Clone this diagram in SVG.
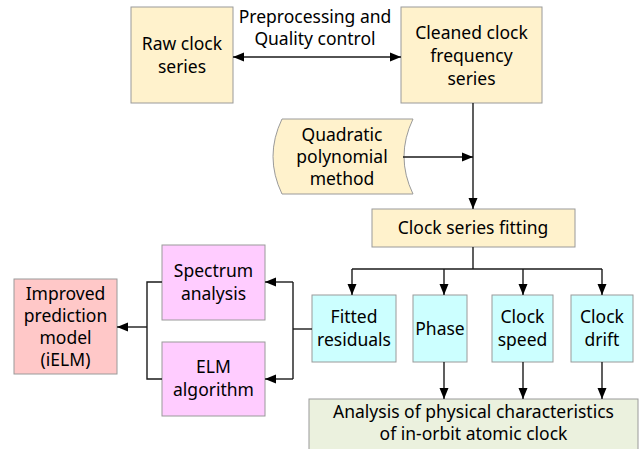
<svg xmlns="http://www.w3.org/2000/svg" width="644" height="449" viewBox="0 0 644 449">
  <defs>
    <marker id="arr" markerUnits="userSpaceOnUse" markerWidth="12" markerHeight="10" refX="11" refY="5" orient="auto-start-reverse">
      <path d="M0,0.5 L11,5 L0,9.5 Z" fill="#000"/>
    </marker>
    <style>
      .box { stroke: #9a9a9a; stroke-width: 1; }
      .beige { fill: #FFF2CC; }
      .cyan { fill: #CCFFFF; }
      .pink { fill: #FFCCFF; }
      .red { fill: #FFC8C8; }
      .green { fill: #EBF1DE; }
      text { font-family: "Noto Sans", "Open Sans", "DejaVu Sans", sans-serif; font-size: 17.5px; fill: #000; text-anchor: middle; }
      .ln { fill: none; stroke: #1a1a1a; stroke-width: 1.4; }
    </style>
  </defs>
  <rect width="644" height="449" fill="#fff"/>

  <g id="raw">
    <rect class="box beige" x="131" y="7" width="102" height="96"/>
    <text x="182" y="50">Raw clock</text>
    <text x="182" y="73">series</text>
  </g>

  <g id="cleaned">
    <rect class="box beige" x="401" y="7" width="141" height="96"/>
    <text x="471.5" y="39">Cleaned clock</text>
    <text x="471.5" y="62">frequency</text>
    <text x="471.5" y="85">series</text>
  </g>

  <g id="quadratic">
    <path class="box beige" d="M282,119 L413,119 Q395,156.5 413,194 L282,194 Q264,156.5 282,119 Z"/>
    <text x="342" y="141">Quadratic</text>
    <text x="342" y="163">polynomial</text>
    <text x="342" y="185">method</text>
  </g>

  <g id="fitting">
    <rect class="box beige" x="372" y="209" width="203" height="38"/>
    <text x="473" y="234">Clock series fitting</text>
  </g>

  <g id="residuals">
    <rect class="box cyan" x="312" y="295" width="84" height="67"/>
    <text x="354" y="323">Fitted</text>
    <text x="354" y="346">residuals</text>
  </g>

  <g id="phase">
    <rect class="box cyan" x="413" y="295" width="54" height="67"/>
    <text x="440" y="335">Phase</text>
  </g>

  <g id="speed">
    <rect class="box cyan" x="492" y="295" width="61" height="67"/>
    <text x="522.5" y="323">Clock</text>
    <text x="522.5" y="346">speed</text>
  </g>

  <g id="drift">
    <rect class="box cyan" x="571" y="295" width="62" height="67"/>
    <text x="602" y="323">Clock</text>
    <text x="602" y="346">drift</text>
  </g>

  <g id="analysis">
    <rect class="box green" x="309" y="399" width="329" height="62"/>
    <text x="473.5" y="418">Analysis of physical characteristics</text>
    <text x="473.5" y="440">of in-orbit atomic clock</text>
  </g>

  <g id="spectrum">
    <rect class="box pink" x="162" y="245" width="103" height="75"/>
    <text x="213.5" y="277">Spectrum</text>
    <text x="213.5" y="300">analysis</text>
  </g>

  <g id="elm">
    <rect class="box pink" x="162" y="342" width="103" height="74"/>
    <text x="213.5" y="373">ELM</text>
    <text x="213.5" y="396">algorithm</text>
  </g>

  <g id="ielm">
    <rect class="box red" x="14" y="279" width="103" height="95"/>
    <text x="65.5" y="300">Improved</text>
    <text x="65.5" y="322">prediction</text>
    <text x="65.5" y="344">model</text>
    <text x="65.5" y="366">(iELM)</text>
  </g>

  <g id="connectors">
    <!-- preprocessing link -->
    <line class="ln" x1="233" y1="57" x2="401" y2="57" marker-start="url(#arr)" marker-end="url(#arr)"/>
    <text x="315" y="23">Preprocessing and</text>
    <text x="315" y="45">Quality control</text>
    <!-- cleaned series to fitting -->
    <line class="ln" x1="473" y1="103" x2="473" y2="209" marker-end="url(#arr)"/>
    <line class="ln" x1="403" y1="157" x2="473" y2="157" marker-end="url(#arr)"/>
    <!-- fitting fan-out -->
    <polyline class="ln" points="473,247 473,269"/>
    <polyline class="ln" points="352,269 602,269"/>
    <line class="ln" x1="352" y1="269" x2="352" y2="295" marker-end="url(#arr)"/>
    <line class="ln" x1="444" y1="269" x2="444" y2="295" marker-end="url(#arr)"/>
    <line class="ln" x1="523" y1="269" x2="523" y2="295" marker-end="url(#arr)"/>
    <line class="ln" x1="602" y1="269" x2="602" y2="295" marker-end="url(#arr)"/>
    <!-- components to physical analysis -->
    <line class="ln" x1="444" y1="362" x2="444" y2="399" marker-end="url(#arr)"/>
    <line class="ln" x1="523" y1="362" x2="523" y2="399" marker-end="url(#arr)"/>
    <line class="ln" x1="602" y1="362" x2="602" y2="399" marker-end="url(#arr)"/>
    <!-- residuals to spectrum / ELM -->
    <polyline class="ln" points="312,329 293,329"/>
    <polyline class="ln" points="293,282 293,379"/>
    <line class="ln" x1="293" y1="282" x2="265" y2="282" marker-end="url(#arr)"/>
    <line class="ln" x1="293" y1="379" x2="265" y2="379" marker-end="url(#arr)"/>
    <!-- spectrum / ELM to iELM -->
    <polyline class="ln" points="162,282 147,282 147,379 162,379"/>
    <line class="ln" x1="147" y1="327" x2="117" y2="327" marker-end="url(#arr)"/>
  </g>
</svg>
